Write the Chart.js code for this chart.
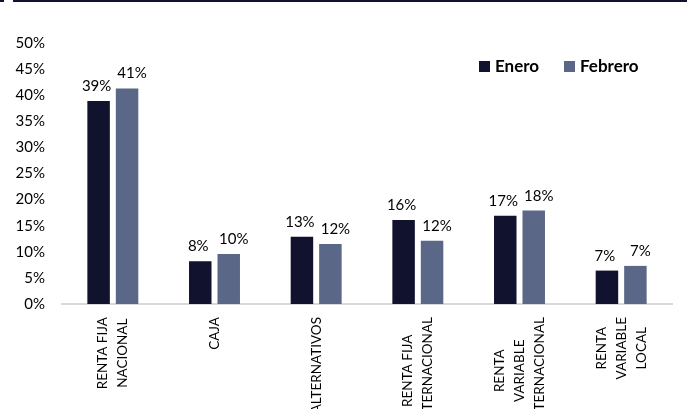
<!DOCTYPE html>
<html>
<head>
<meta charset="utf-8">
<script src="https://cdn.jsdelivr.net/npm/chart.js@4.4.1/dist/chart.umd.min.js"></script>
<style>
  html, body { margin: 0; padding: 0; background: #ffffff; }
  #wrap { position: relative; width: 687px; height: 409px; }
</style>
</head>
<body>
<div id="wrap"><canvas id="c" width="687" height="409"></canvas></div>
<script>
const categories = [
  ["RENTA FIJA", "NACIONAL"],
  ["CAJA"],
  ["ALTERNATIVOS"],
  ["RENTA FIJA", "INTERNACIONAL"],
  ["RENTA", "VARIABLE", "INTERNACIONAL"],
  ["RENTA", "VARIABLE", "LOCAL"]
];
const seriesNames = ["Enero", "Febrero"];
const enero = [38.9, 8.2, 12.9, 16.1, 16.9, 6.4];
const febrero = [41.3, 9.6, 11.5, 12.1, 17.9, 7.3];
const eneroLabels = ["39%", "8%", "13%", "16%", "17%", "7%"];
const febreroLabels = ["41%", "10%", "12%", "12%", "18%", "7%"];
const yTicks = [0, 5, 10, 15, 20, 25, 30, 35, 40, 45, 50];

const COL_ENERO = "#10122e";
const COL_FEB = "#5a6786";
const FONT = "Lato, 'Open Sans', 'Liberation Sans', sans-serif";

const topLine = {
  id: 'topLine',
  beforeDraw(chart) {
    const ctx = chart.ctx;
    ctx.save();
    ctx.fillStyle = COL_ENERO;
    ctx.fillRect(0, 0, 4, 2);
    ctx.fillRect(13, 0, 674, 2);
    ctx.restore();
  }
};

const xLabels = {
  id: 'xLabels',
  afterDraw(chart) {
    const ctx = chart.ctx;
    const xs = chart.scales.x;
    const base = chart.chartArea.bottom;
    ctx.save();
    ctx.fillStyle = "#000000";
    ctx.font = "13.5px " + FONT;
    ctx.textAlign = "center";
    ctx.textBaseline = "middle";
    const lineStep = 20;
    categories.forEach((lines, i) => {
      const cx = xs.getPixelForValue(i);
      const maxW = Math.max(...lines.map(l => ctx.measureText(l).width));
      const cy = base + 13 + maxW / 2;
      lines.forEach((line, j) => {
        const lx = cx + (j - (lines.length - 1) / 2) * lineStep;
        ctx.save();
        ctx.translate(lx, cy);
        ctx.rotate(-Math.PI / 2);
        ctx.fillText(line, 0, 0);
        ctx.restore();
      });
    });
    ctx.restore();
  }
};

const dataLabels = {
  id: 'dataLabels',
  afterDatasetsDraw(chart) {
    const ctx = chart.ctx;
    ctx.save();
    ctx.fillStyle = "#000000";
    ctx.font = "15px " + FONT;
    ctx.textAlign = "center";
    ctx.textBaseline = "alphabetic";
    const texts = [eneroLabels, febreroLabels];
    const shifts = [-2, 5];
    chart.data.datasets.forEach((ds, di) => {
      const meta = chart.getDatasetMeta(di);
      meta.data.forEach((bar, i) => {
        ctx.fillText(texts[di][i], bar.x + shifts[di], bar.y - 10);
      });
    });
    ctx.restore();
  }
};

const legendBox = {
  id: 'legendBox',
  afterDraw(chart) {
    const ctx = chart.ctx;
    ctx.save();
    ctx.font = "bold 17px " + FONT;
    ctx.textBaseline = "middle";
    ctx.textAlign = "left";
    const cols = [COL_ENERO, COL_FEB];
    const y = 66.5;
    let x = 479;
    seriesNames.forEach((name, i) => {
      ctx.fillStyle = cols[i];
      ctx.fillRect(x, y - 5.5, 11, 11);
      ctx.fillStyle = "#000000";
      ctx.fillText(name, x + 16, y);
      x = 564;
    });
    ctx.restore();
  }
};

new Chart(document.getElementById('c'), {
  type: 'bar',
  data: {
    labels: categories,
    datasets: [
      { label: seriesNames[0], data: enero, backgroundColor: COL_ENERO, borderWidth: 0,
        categoryPercentage: 0.56, barPercentage: 0.79 },
      { label: seriesNames[1], data: febrero, backgroundColor: COL_FEB, borderWidth: 0,
        categoryPercentage: 0.56, barPercentage: 0.79 }
    ]
  },
  options: {
    responsive: false,
    animation: false,
    devicePixelRatio: 1,
    layout: { padding: { top: 43, right: 15, left: 0, bottom: 0 } },
    plugins: {
      legend: { display: false },
      tooltip: { enabled: false }
    },
    scales: {
      x: {
        grid: { display: false, drawTicks: false },
        border: { display: true, color: "#d9d9d9", width: 2 },
        ticks: { display: false },
        afterFit(s) { s.height = 105; }
      },
      y: {
        min: 0, max: 50,
        afterBuildTicks(s) { s.ticks = yTicks.map(v => ({ value: v })); },
        grid: { display: false, drawTicks: false },
        border: { display: false },
        ticks: {
          padding: 17,
          color: "#000000",
          font: { family: FONT, size: 15 },
          callback: v => v + "%"
        },
        afterFit(s) { s.width = 62; }
      }
    }
  },
  plugins: [topLine, xLabels, dataLabels, legendBox]
});
</script>
</body>
</html>
